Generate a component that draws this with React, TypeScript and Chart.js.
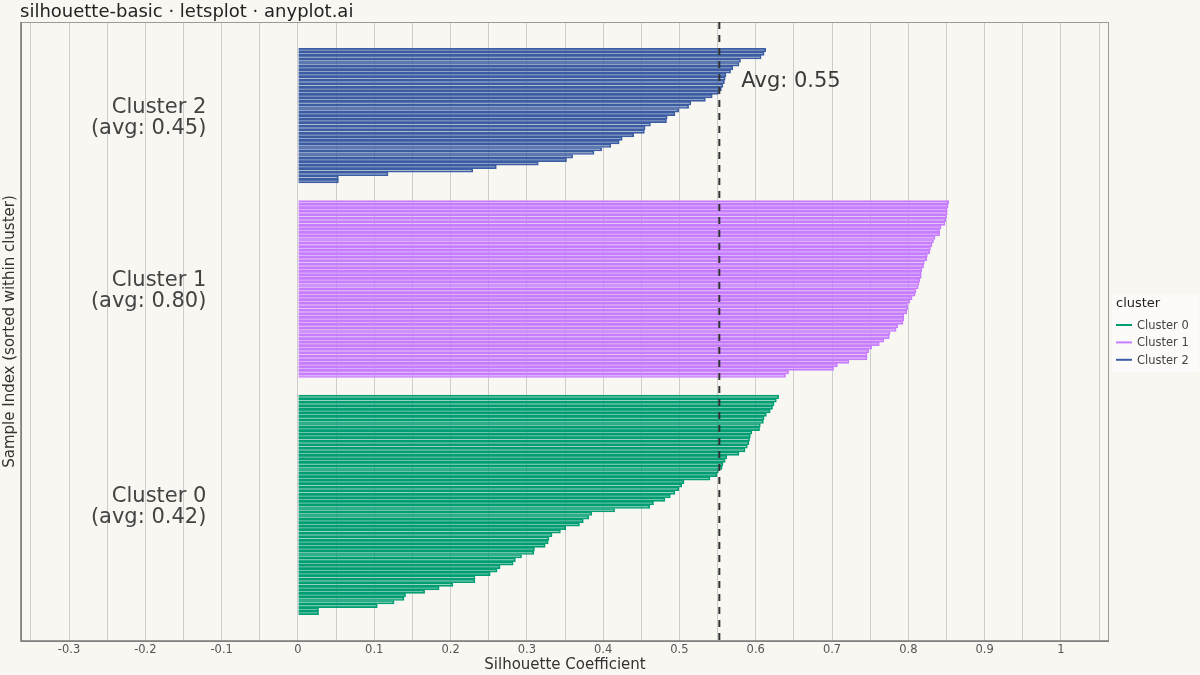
import { useEffect, useRef } from "react";
import { Chart, registerables } from "chart.js";

Chart.register(...registerables);

const FONT = "'DejaVu Sans', sans-serif";
const BG = "#F9F7F1";

const clusterNames = ["Cluster 0", "Cluster 1", "Cluster 2"];
const clusterColors = ["#009E73", "#C77DFF", "#3B5DA3"];
const clusterFills = ["rgba(0,158,115,0.4)", "rgba(199,125,255,0.4)", "rgba(59,93,163,0.4)"];

// silhouette values per sample, read top-down (largest first)
const cluster0 = [
  0.630, 0.627, 0.624, 0.622, 0.619, 0.614, 0.611, 0.610, 0.606, 0.605,
  0.595, 0.593, 0.592, 0.591, 0.589, 0.586, 0.578, 0.562, 0.560, 0.557,
  0.556, 0.551, 0.549, 0.540, 0.506, 0.503, 0.499, 0.494, 0.488, 0.481,
  0.466, 0.461, 0.415, 0.385, 0.381, 0.374, 0.369, 0.351, 0.344, 0.333,
  0.329, 0.328, 0.324, 0.310, 0.309, 0.293, 0.285, 0.282, 0.265, 0.261,
  0.252, 0.232, 0.232, 0.203, 0.185, 0.166, 0.141, 0.139, 0.126, 0.104,
  0.027, 0.027,
];
const cluster1 = [
  0.853, 0.852, 0.851, 0.851, 0.850, 0.849, 0.848, 0.843, 0.841, 0.841,
  0.835, 0.833, 0.831, 0.829, 0.828, 0.825, 0.824, 0.821, 0.820, 0.818,
  0.817, 0.817, 0.815, 0.814, 0.813, 0.810, 0.809, 0.805, 0.802, 0.799,
  0.799, 0.798, 0.794, 0.794, 0.793, 0.786, 0.784, 0.776, 0.775, 0.768,
  0.762, 0.752, 0.748, 0.746, 0.746, 0.722, 0.707, 0.702, 0.643, 0.639,
];
const cluster2 = [
  0.613, 0.611, 0.607, 0.580, 0.578, 0.570, 0.567, 0.561, 0.560, 0.559,
  0.557, 0.555, 0.551, 0.543, 0.534, 0.515, 0.512, 0.499, 0.494, 0.484,
  0.483, 0.462, 0.455, 0.454, 0.440, 0.425, 0.421, 0.410, 0.398, 0.388,
  0.360, 0.352, 0.315, 0.260, 0.229, 0.118, 0.053, 0.053,
];
const clusterValues = [cluster0, cluster1, cluster2];

const xMin = -0.363;
const xMax = 1.063;
const GAP = 5; // empty sample slots between clusters

// y offsets of each cluster (bottom to top)
const offsets: number[] = [];
let cursor = 0;
clusterValues.forEach((vals) => {
  offsets.push(cursor);
  cursor += vals.length + GAP;
});
const yTop = cursor - GAP - 1;
const yPad = yTop * 0.05;

const mean = (a: number[]) => a.reduce((s, v) => s + v, 0) / a.length;
const allValues = clusterValues.flat();
const overallAvg = mean(allValues);

const overlayPlugin = {
  id: "overlay",
  afterDatasetsDraw(chart: any) {
    const { ctx, chartArea: a, scales } = chart;
    const xs = scales.x;
    const ys = scales.y;
    ctx.save();

    // frame
    ctx.strokeStyle = "#9a9a9a";
    ctx.lineWidth = 1;
    ctx.strokeRect(a.left + 0.5, a.top + 0.5, a.right - a.left - 1, a.bottom - a.top);
    ctx.strokeStyle = "#7a7a7a";
    ctx.lineWidth = 1.5;
    ctx.beginPath();
    ctx.moveTo(a.left, a.top);
    ctx.lineTo(a.left, a.bottom);
    ctx.lineTo(a.right, a.bottom);
    ctx.stroke();

    // average line
    const ax = xs.getPixelForValue(overallAvg);
    ctx.strokeStyle = "#333333";
    ctx.lineWidth = 2;
    ctx.setLineDash([7, 6]);
    ctx.beginPath();
    ctx.moveTo(ax, a.top);
    ctx.lineTo(ax, a.bottom);
    ctx.stroke();
    ctx.setLineDash([]);

    ctx.font = `21px ${FONT}`;
    ctx.fillStyle = "#3a3a3a";
    ctx.textAlign = "left";
    ctx.textBaseline = "alphabetic";
    ctx.fillText(`Avg: ${overallAvg.toFixed(2)}`, ax + 22, a.top + 65);

    // cluster labels
    ctx.textAlign = "right";
    ctx.fillStyle = "#444444";
    clusterValues.forEach((vals, i) => {
      const cy = ys.getPixelForValue(offsets[i] + (vals.length - 1) / 2);
      const lx = xs.getPixelForValue(-0.12);
      ctx.fillText(clusterNames[i], lx, cy - 3);
      ctx.fillText(`(avg: ${mean(vals).toFixed(2)})`, lx, cy + 18);
    });

    // title
    ctx.textAlign = "left";
    ctx.fillStyle = "#222222";
    ctx.font = `18px ${FONT}`;
    ctx.fillText("silhouette-basic · letsplot · anyplot.ai", 20, 17);

    // legend
    const lx = a.right + 3;
    ctx.fillStyle = "rgba(255,255,255,0.55)";
    ctx.fillRect(lx, 294, 87, 78);
    ctx.fillStyle = "#222222";
    ctx.font = `13px ${FONT}`;
    ctx.fillText("cluster", lx + 4, 307);
    ctx.font = `11.5px ${FONT}`;
    ctx.textBaseline = "middle";
    clusterNames.forEach((name, i) => {
      const ly = 325 + i * 17.4;
      ctx.strokeStyle = clusterColors[i];
      ctx.lineWidth = 2;
      ctx.beginPath();
      ctx.moveTo(lx + 4, ly);
      ctx.lineTo(lx + 20, ly);
      ctx.stroke();
      ctx.fillStyle = "#444444";
      ctx.fillText(name, lx + 25, ly + 1);
    });

    ctx.restore();
  },
};

const bgPlugin = {
  id: "bg",
  beforeDraw(chart: any) {
    const { ctx, width, height } = chart;
    ctx.save();
    ctx.fillStyle = BG;
    ctx.fillRect(0, 0, width, height);
    ctx.restore();
  },
};

function SilhouetteChart() {
  const canvasRef = useRef<HTMLCanvasElement>(null);
  const chartRef = useRef<Chart | null>(null);

  useEffect(() => {
    if (!canvasRef.current) return;
    const ctx = canvasRef.current.getContext("2d");
    if (!ctx) return;

    if (chartRef.current) {
      chartRef.current.destroy();
    }

    Chart.defaults.font.family = FONT;

    const datasets = clusterValues.map((vals, i) => {
      const sorted = [...vals].sort((p, q) => p - q);
      return {
        label: clusterNames[i],
        data: sorted.map((v, k) => ({ x: v, y: offsets[i] + k })),
        backgroundColor: clusterFills[i],
        borderColor: clusterColors[i],
        borderWidth: 1,
        borderSkipped: "start" as const,
        barPercentage: 1,
        categoryPercentage: 1,
        grouped: false,
      };
    });

    chartRef.current = new Chart(ctx, {
      type: "bar",
      data: { datasets },
      options: {
        indexAxis: "y",
        animation: false,
        responsive: true,
        maintainAspectRatio: false,
        layout: { padding: { left: 0, top: 22, right: 91, bottom: 0 } },
        plugins: {
          legend: { display: false },
          tooltip: { enabled: false },
        },
        scales: {
          x: {
            type: "linear",
            min: xMin,
            max: xMax,
            offset: false,
            grid: {
              color: "#cdcdcd",
              lineWidth: 1,
              drawTicks: false,
            },
            border: { display: false },
            ticks: {
              stepSize: 0.05,
              includeBounds: false,
              autoSkip: false,
              maxRotation: 0,
              padding: 2,
              color: "#555555",
              font: { size: 11.5 },
              callback: (v: any) => {
                const n = Number(v);
                const t = n * 10;
                if (Math.abs(Math.round(t) - t) > 1e-6) return "";
                return String(Number(n.toFixed(1)));
              },
            },
            title: {
              display: true,
              text: "Silhouette Coefficient",
              color: "#333333",
              font: { size: 15 },
              padding: { top: 0, bottom: 1 },
            },
            afterFit: (scale: any) => {
              scale.height = 34;
            },
          },
          y: {
            type: "linear",
            min: -yPad,
            max: yTop + yPad,
            offset: false,
            grid: { display: false, offset: false },
            border: { display: false },
            ticks: { display: false },
            title: {
              display: true,
              text: "Sample Index (sorted within cluster)",
              color: "#333333",
              font: { size: 15 },
              padding: { top: 1, bottom: 0 },
            },
            afterFit: (scale: any) => {
              scale.width = 21;
            },
          },
        },
      },
      plugins: [bgPlugin, overlayPlugin],
    });

    return () => {
      if (chartRef.current) {
        chartRef.current.destroy();
        chartRef.current = null;
      }
    };
  }, []);

  return (
    <div style={{ position: "fixed", left: 0, top: 0, width: 1200, height: 675, background: BG }}>
      <canvas ref={canvasRef} />
    </div>
  );
}

export default function App() {
  return <SilhouetteChart />;
}
